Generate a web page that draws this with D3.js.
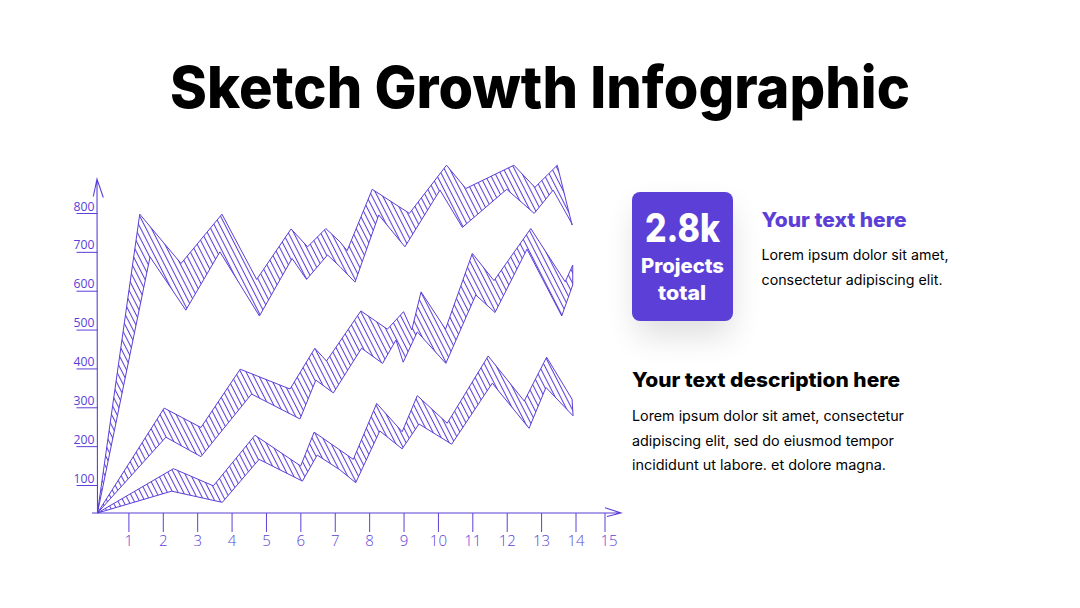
<!DOCTYPE html>
<html>
<head>
<meta charset="utf-8">
<script src="https://cdn.jsdelivr.net/npm/d3@7/dist/d3.min.js"></script>
<style>
html,body{margin:0;padding:0;background:#fff;}
svg{display:block;}
text{font-family:Inter,"Noto Sans",sans-serif;}
</style>
</head>
<body>
<svg id="c" width="1080" height="608"></svg>
<script>
const xTicks = [1,2,3,4,5,6,7,8,9,10,11,12,13,14,15];
const yTicks = [100,200,300,400,500,600,700,800];

const topUpper = [[0.1,0],[1.33,797],[2.53,670],[3.72,797],[4.73,629],[5.73,759],[6.21,713],[6.74,760],[7.15,726],[7.36,703],[8.09,861],[9.17,799],[10.25,923],[10.81,863],[12.21,923],[12.82,866],[13.47,923],[13.9,769]];
const topLower = [[0.1,0],[1.63,687],[2.67,550],[3.66,700],[4.81,535],[5.76,683],[6.18,629],[6.79,692],[7.15,662],[7.59,622],[8.28,795],[9.04,713],[10.06,859],[10.71,763],[12.0,861],[12.8,799],[13.35,859],[13.9,772]];
const midUpper = [[0.1,0],[2.04,298],[3.11,248],[4.25,398],[5.7,347],[6.42,452],[6.76,419],[7.76,548],[8.53,501],[9.0,546],[9.24,499],[9.51,597],[10.22,501],[11.0,696],[11.63,626],[12.7,760],[13.7,623],[13.92,666]];
const midLower = [[0.1,0],[2.09,223],[3.11,173],[4.58,334],[5.99,270],[6.45,370],[6.96,337],[7.78,452],[8.39,413],[8.78,473],[8.99,416],[9.4,494],[10.23,413],[11.1,589],[11.66,544],[12.59,707],[13.6,535],[13.92,615]];
const lowUpper = [[0.1,0],[2.31,142],[3.47,97],[4.68,228],[6.01,149],[6.4,236],[7.15,190],[7.54,166],[8.22,310],[8.96,237],[9.4,330],[10.27,259],[11.46,432],[12.51,316],[13.16,429],[13.9,321]];
const lowLower = [[0.1,0],[2.26,78],[3.73,38],[4.8,166],[6.06,110],[6.49,177],[7.15,139],[7.61,106],[8.31,239],[8.96,193],[9.45,257],[10.4,205],[11.58,362],[12.65,246],[13.14,351],[13.93,278]];
const bands = [[topUpper,topLower],[midUpper,midLower],[lowUpper,lowLower]];

const titleText = "Sketch Growth Infographic";
const accent = "#5c3fd6";

const svg = d3.select("#c");
const x = d3.scaleLinear().domain([0,14,15]).range([94,575.5,604.5]);
const y = d3.scaleLinear().domain([0,100,800]).range([513,485,213]);

const defs = svg.append("defs");
const pat = defs.append("pattern").attr("id","hatch").attr("patternUnits","userSpaceOnUse")
  .attr("width",4.8).attr("height",12).attr("patternTransform","rotate(-27)");
pat.append("line").attr("x1",2.4).attr("x2",2.4).attr("y1",0).attr("y2",12)
  .attr("stroke",accent).attr("stroke-width",1.05);
const blur = defs.append("filter").attr("id","soft").attr("x","-60%").attr("y","-60%").attr("width","220%").attr("height","220%");
blur.append("feGaussianBlur").attr("stdDeviation",16);

svg.append("text").attr("x",540).attr("y",108).attr("text-anchor","middle")
  .attr("font-size",58).attr("font-weight",800).attr("fill","#000")
  .attr("textLength",740).attr("lengthAdjust","spacingAndGlyphs").text(titleText);

const line = d3.line().x(d=>x(d[0])).y(d=>y(d[1]));
svg.append("g").selectAll("path").data(bands).join("path")
  .attr("d",d=>line(d[0].concat(d[1].slice().reverse()))+"Z")
  .attr("fill","url(#hatch)").attr("stroke",accent).attr("stroke-width",1).attr("stroke-linejoin","miter");

// axes
const yAxis = svg.append("g").attr("transform","translate(97.5,0)")
  .call(d3.axisLeft(y).tickValues(yTicks).tickSize(21).tickPadding(0));
yAxis.select(".domain").remove();
yAxis.selectAll("line").attr("stroke",accent).attr("stroke-width",1);
yAxis.selectAll("text").attr("x",-3).attr("dy",-3).attr("text-anchor","end")
  .attr("font-size",12.5).attr("font-weight",400).attr("fill",accent)
  .style("font-family","'Open Sans',sans-serif").attr("textLength",21).attr("lengthAdjust","spacingAndGlyphs");

const xAxis = svg.append("g").attr("transform","translate(0,513)")
  .call(d3.axisBottom(x).tickValues(xTicks).tickSize(19).tickPadding(0).tickFormat(d3.format("d")));
xAxis.select(".domain").remove();
xAxis.selectAll("line").attr("stroke",accent).attr("stroke-width",1);
xAxis.selectAll("text").attr("y",20).attr("dy",0).attr("dominant-baseline","hanging")
  .attr("font-size",15).attr("font-weight",300).attr("fill",accent)
  .style("font-family","'Open Sans',sans-serif");
xAxis.selectAll(".tick").filter(d=>d===15).select("text").attr("x",4);

// axis lines and arrow heads
const axisPath = d3.path();
axisPath.moveTo(x(0)+3.5,y(0)); axisPath.lineTo(x(0)+3,179);
axisPath.moveTo(93.3,196.5); axisPath.lineTo(x(0)+3,179); axisPath.lineTo(103.3,197.5);
axisPath.moveTo(92,y(0)); axisPath.lineTo(621,y(0));
axisPath.moveTo(605,507.7); axisPath.lineTo(621,y(0)); axisPath.lineTo(607,516.5);
svg.append("path").attr("d",axisPath.toString()).attr("fill","none").attr("stroke",accent).attr("stroke-width",1.1);

// stat card
svg.append("rect").attr("x",636).attr("y",208).attr("width",96).attr("height",128).attr("rx",10)
  .attr("fill","#000").attr("opacity",0.13).attr("filter","url(#soft)");
svg.append("rect").attr("x",632).attr("y",192).attr("width",101).attr("height",129).attr("rx",8).attr("fill",accent);

const labels = [
 ["2.8k",682.5,242,39,800,"#fff",75,"middle"],
 ["Projects",682.5,273,20,800,"#fff",83,"middle"],
 ["total",682,299.5,20,800,"#fff",48,"middle"],
 ["Your text here",761.5,227,20,800,accent,145,"start"],
 ["Lorem ipsum dolor sit amet,",761.5,260,14,400,"#000",187,"start"],
 ["consectetur adipiscing elit.",761.5,285,14,400,"#000",181,"start"],
 ["Your text description here",632,387,20,800,"#000",268,"start"],
 ["Lorem ipsum dolor sit amet, consectetur",632,421,14,400,"#000",272,"start"],
 ["adipiscing elit, sed do eiusmod tempor",632,446,14,400,"#000",262,"start"],
 ["incididunt ut labore. et dolore magna.",632,470,14,400,"#000",254,"start"]
];
svg.append("g").selectAll("text").data(labels).join("text")
  .attr("x",d=>d[1]).attr("y",d=>d[2]).attr("font-size",d=>d[3]).attr("font-weight",d=>d[4])
  .attr("fill",d=>d[5]).attr("textLength",d=>d[6]).attr("lengthAdjust","spacingAndGlyphs")
  .attr("text-anchor",d=>d[7]).text(d=>d[0]);
</script>
</body>
</html>
